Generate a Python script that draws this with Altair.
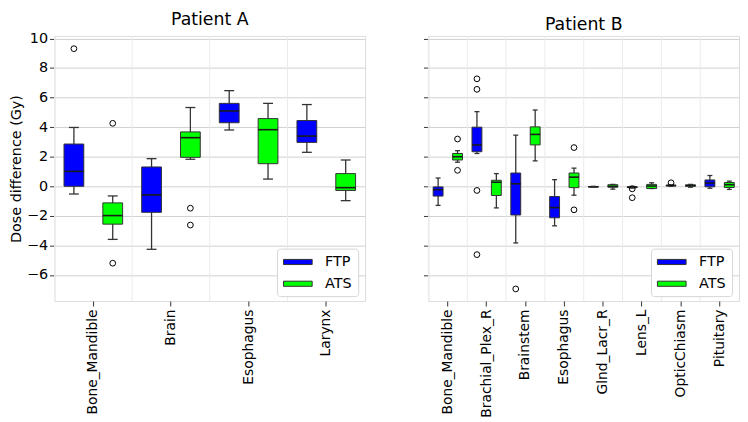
import altair as alt
import pandas as pd

groups = ["FTP", "ATS"]
colors = ["#0000ff", "#00ff00"]

# ---------------- Patient A ----------------
a_structs = ["Bone_Mandible", "Brain", "Esophagus", "Larynx"]
a_ftp_lo = [-0.52, -4.26, 3.81, 2.30]
a_ftp_q1 = [0.00, -1.76, 4.30, 2.97]
a_ftp_med = [1.01, -0.58, 5.10, 3.40]
a_ftp_q3 = [2.86, 1.31, 5.61, 4.45]
a_ftp_hi = [3.98, 1.87, 6.47, 5.53]
a_ats_lo = [-3.59, 1.83, 0.49, -0.97]
a_ats_q1 = [-2.56, 1.96, 1.53, -0.28]
a_ats_med = [-1.98, 3.29, 3.83, -0.09]
a_ats_q3 = [-1.12, 3.68, 4.58, 0.86]
a_ats_hi = [-0.65, 5.33, 5.61, 1.78]
a_out_struct = ["Bone_Mandible", "Bone_Mandible", "Bone_Mandible", "Brain", "Brain"]
a_out_group = ["FTP", "ATS", "ATS", "ATS", "ATS"]
a_out_value = [9.31, 4.26, -5.20, -1.48, -2.62]

# ---------------- Patient B ----------------
b_structs = ["Bone_Mandible", "Brachial_Plex_R", "Brainstem", "Esophagus",
             "Glnd_Lacr_R", "Lens_L", "OpticChiasm", "Pituitary"]
b_ftp_lo = [-1.29, 2.22, -3.83, -2.67, -0.06, -0.12, 0.00, -0.13]
b_ftp_q1 = [-0.66, 2.34, -1.94, -2.13, -0.05, -0.09, 0.03, -0.03]
b_ftp_med = [-0.23, 2.80, 0.17, -1.44, -0.03, -0.06, 0.05, 0.22]
b_ftp_q3 = [-0.04, 4.00, 0.90, -0.69, -0.01, -0.03, 0.08, 0.43]
b_ftp_hi = [0.56, 5.05, 3.46, 0.45, 0.00, 0.00, 0.10, 0.73]
b_ats_lo = [1.63, -1.46, 1.72, -0.60, -0.19, -0.15, -0.06, -0.21]
b_ats_q1 = [1.78, -0.62, 2.80, -0.09, -0.06, -0.15, 0.00, -0.08]
b_ats_med = [2.00, 0.28, 3.51, 0.62, 0.00, 0.02, 0.05, 0.11]
b_ats_q3 = [2.22, 0.41, 4.02, 0.90, 0.11, 0.13, 0.10, 0.26]
b_ats_hi = [2.41, 0.86, 5.16, 1.23, 0.13, 0.24, 0.13, 0.35]
b_out_struct = ["Bone_Mandible", "Bone_Mandible", "Brachial_Plex_R", "Brachial_Plex_R",
                "Brachial_Plex_R", "Brachial_Plex_R", "Brainstem", "Esophagus", "Esophagus",
                "Lens_L", "Lens_L", "OpticChiasm"]
b_out_group = ["ATS", "ATS", "FTP", "FTP", "FTP", "FTP", "FTP", "ATS", "ATS",
               "FTP", "FTP", "FTP"]
b_out_value = [3.20, 1.08, 7.27, 6.56, -0.28, -4.62, -6.94, 2.62, -1.59,
               -0.17, -0.77, 0.24]

y_ticks = [-6, -4, -2, 0, 2, 4, 6, 8, 10]
y_domain = [-7.76, 10.17]

PW, PH = 314, 268
FONT = "DejaVu Sans"
EDGE = "#333333"


def box_frame(structs, ftp, ats):
    rows = []
    for g, st in zip(groups, [ftp, ats]):
        lo, q1, med, q3, hi = st
        for i, s in enumerate(structs):
            rows.append(dict(structure=s, group=g, lo=lo[i], q1=q1[i],
                             med=med[i], q3=q3[i], hi=hi[i]))
    return pd.DataFrame(rows)


def panel(title, structs, box_df, out_df, box_w, cap_w, first):
    xaxis = alt.Axis(title=None, labelAngle=-90, grid=False, domain=False,
                     tickSize=5, labelPadding=3, labelFontSize=14, labelFont=FONT,
                     labelColor="black", tickColor=EDGE)
    xsc = alt.Scale(domain=structs, paddingInner=0, paddingOuter=0)
    x = alt.X("structure:N", sort=structs, scale=xsc, axis=xaxis)
    xo = alt.XOffset("group:N", sort=groups,
                     scale=alt.Scale(domain=groups, paddingInner=0, paddingOuter=0))
    yaxis = alt.Axis(values=y_ticks, title="Dose difference (Gy)" if first else None,
                     labels=first, domain=False, tickSize=5, labelPadding=2,
                     titlePadding=3, labelFontSize=14.5, titleFontSize=14.5,
                     titleFontWeight="normal", labelFont=FONT, titleFont=FONT,
                     labelColor="black", titleColor="black", tickColor=EDGE,
                     grid=True, gridColor="#d0d0d0", gridWidth=1)
    ysc = alt.Scale(domain=y_domain, nice=False, zero=False)

    def Y(f):
        return alt.Y(f"{f}:Q", scale=ysc, axis=yaxis)

    vgrid = alt.Chart(pd.DataFrame({"structure": structs})).mark_rule(
        color="#ebebeb", strokeWidth=1).encode(
        x=alt.X("structure:N", sort=structs, scale=xsc, axis=xaxis, bandPosition=0))

    base = alt.Chart(box_df)
    whisk = base.mark_rule(color=EDGE, strokeWidth=1.3).encode(
        x=x, xOffset=xo, y=Y("lo"), y2="hi")
    legend = alt.Legend(title=None, orient="none", legendX=PW - 89,
                        legendY=PH - 53, fillColor="white", strokeColor="#d6d6d6",
                        cornerRadius=3, padding=6, labelFontSize=14.5, labelFont=FONT,
                        labelColor="black", symbolType="M-2.07,-0.37H2.07V0.37H-2.07Z",
                        symbolSize=196, symbolStrokeColor=EDGE, symbolStrokeWidth=1,
                        symbolOpacity=1, symbolOffset=7.5, labelOffset=20, rowPadding=7)
    boxes = base.mark_bar(size=box_w, stroke=EDGE, strokeWidth=1, opacity=1).encode(
        x=x, xOffset=xo, y=Y("q1"), y2="q3",
        color=alt.Color("group:N", scale=alt.Scale(domain=groups, range=colors),
                        legend=legend))
    med = base.mark_tick(orient="horizontal", size=box_w, thickness=1.6,
                         color="#1a1a1a", opacity=1).encode(x=x, xOffset=xo, y=Y("med"))
    cap_lo = base.mark_tick(orient="horizontal", size=cap_w, thickness=1.3,
                            color=EDGE, opacity=1).encode(x=x, xOffset=xo, y=Y("lo"))
    cap_hi = base.mark_tick(orient="horizontal", size=cap_w, thickness=1.3,
                            color=EDGE, opacity=1).encode(x=x, xOffset=xo, y=Y("hi"))
    outs = alt.Chart(out_df).mark_point(shape="circle", filled=False, size=34,
                                        color="black", strokeWidth=1, opacity=1).encode(
        x=x, xOffset=xo, y=Y("value"))

    return alt.layer(vgrid, whisk, boxes, med, cap_lo, cap_hi, outs).properties(
        width=PW, height=PH,
        title=alt.TitleParams(title, fontSize=17.5, fontWeight="normal", font=FONT,
                              color="black", offset=2, anchor="middle", frame="group"))


a_box = box_frame(a_structs,
                  [a_ftp_lo, a_ftp_q1, a_ftp_med, a_ftp_q3, a_ftp_hi],
                  [a_ats_lo, a_ats_q1, a_ats_med, a_ats_q3, a_ats_hi])
b_box = box_frame(b_structs,
                  [b_ftp_lo, b_ftp_q1, b_ftp_med, b_ftp_q3, b_ftp_hi],
                  [b_ats_lo, b_ats_q1, b_ats_med, b_ats_q3, b_ats_hi])
a_out = pd.DataFrame({"structure": a_out_struct, "group": a_out_group, "value": a_out_value})
b_out = pd.DataFrame({"structure": b_out_struct, "group": b_out_group, "value": b_out_value})

pa = panel("Patient A", a_structs, a_box, a_out, 20, 10, True)
pb = panel("Patient B", b_structs, b_box, b_out, 10, 5, False)

chart = alt.hconcat(pa, pb, spacing=57).resolve_scale(
    x="independent", xOffset="independent", color="independent").resolve_legend(
    color="independent").properties(
    padding=0).configure_view(stroke="#555555", strokeWidth=1).configure(font=FONT)

chart.save("out.html", embed_options={"renderer": "svg", "actions": False})
